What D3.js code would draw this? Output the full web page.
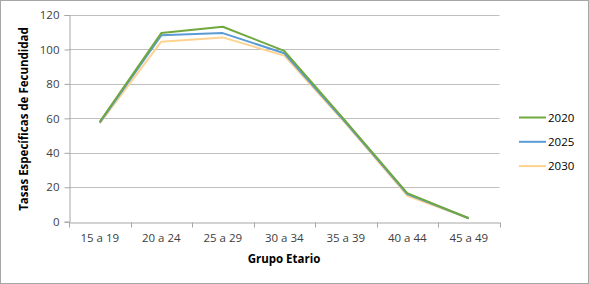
<!DOCTYPE html>
<html>
<head>
<meta charset="UTF-8">
<title>Tasas Especificas de Fecundidad</title>
<script src="https://d3js.org/d3.v7.min.js"></script>
<style>
  body { margin: 0; background: #fff; }
  svg text { font-family: "Open Sans", sans-serif; fill: #404040; }
</style>
</head>
<body>
<script>
// age groups and projected rates per year
var grupos = ["15 a 19", "20 a 24", "25 a 29", "30 a 34", "35 a 39", "40 a 44", "45 a 49"];
var anios = ["2020", "2025", "2030"];
var tasas2020 = [58.0, 109.5, 113.2, 99.2, 58.2, 16.6, 2.0];
var tasas2025 = [57.5, 108.2, 109.5, 97.8, 57.6, 16.0, 2.0];
var tasas2030 = [57.0, 104.5, 107.0, 96.4, 57.0, 15.1, 1.9];
var yTicks = [0, 20, 40, 60, 80, 100, 120];
var colores = ["#70A83F", "#5B9BD5", "#FFD38F"];

var width = 589, height = 284;
var margin = { top: 15, right: 90, bottom: 62, left: 69 };
var plotW = 499.5 - margin.left;
var plotH = height - margin.bottom - margin.top;

var svg = d3.select("body").append("svg")
    .attr("width", width)
    .attr("height", height);

// outer frame
svg.append("rect")
    .attr("x", 0.5).attr("y", 0.5)
    .attr("width", width - 1).attr("height", height - 1)
    .attr("fill", "#fff")
    .attr("stroke", "#A6A6A6");

var g = svg.append("g")
    .attr("transform", "translate(" + margin.left + "," + margin.top + ")");

var x = d3.scaleBand().domain(grupos).range([0, plotW]);
var y = d3.scaleLinear().domain([0, 120]).range([206.7, 0]);

// gridlines
g.append("g")
    .selectAll("line")
    .data(yTicks.slice(1))
    .join("line")
    .attr("x1", 0).attr("x2", plotW)
    .attr("y1", function (d) { return Math.round(y(d)) + 0.5; })
    .attr("y2", function (d) { return Math.round(y(d)) + 0.5; })
    .attr("stroke", "#BFBFBF")
    .attr("stroke-width", 1);

// y axis
var yAxis = g.append("g")
    .attr("transform", "translate(0.5,0)")
    .call(d3.axisLeft(y).tickValues(yTicks).tickSize(5).tickPadding(5));
yAxis.selectAll("path, line").attr("stroke", "#A6A6A6");
yAxis.selectAll("text").style("font-size", "11.5px").attr("fill", "#404040");

// x axis with ticks at band edges
var xAxis = g.append("g")
    .attr("transform", "translate(0," + (Math.round(y(0)) + 0.5) + ")")
    .call(d3.axisBottom(x).tickSize(0).tickPadding(11));
xAxis.select(".domain").attr("stroke", "#A6A6A6");
xAxis.selectAll("text").style("font-size", "11.5px").attr("fill", "#404040");
xAxis.selectAll(".edge")
    .data(grupos.concat(["end"]))
    .join("line")
    .attr("class", "edge")
    .attr("x1", function (d, i) { return Math.round(i * x.step()) + 0.5; })
    .attr("x2", function (d, i) { return Math.round(i * x.step()) + 0.5; })
    .attr("y1", 0).attr("y2", 5)
    .attr("stroke", "#A6A6A6");

// series lines
var series = [tasas2020, tasas2025, tasas2030];
var line = d3.line()
    .x(function (d, i) { return x(grupos[i]) + x.bandwidth() / 2; })
    .y(function (d) { return y(d); });

// draw 2030 first so 2020 is on top
for (var s = series.length - 1; s >= 0; s--) {
    g.append("path")
        .attr("d", line(series[s]))
        .attr("fill", "none")
        .attr("stroke", colores[s])
        .attr("stroke-width", 2)
        .attr("stroke-linejoin", "round");
}

// axis titles
svg.append("text")
    .attr("x", 284).attr("y", 263)
    .attr("text-anchor", "middle")
    .style("font-size", "11.5px").style("font-weight", "bold")
    .attr("fill", "#000")
    .style("fill", "#000")
    .text("Grupo Etario");

svg.append("text")
    .attr("transform", "translate(28,119) rotate(-90)")
    .attr("text-anchor", "middle")
    .style("font-size", "11.5px").style("font-weight", "bold")
    .style("fill", "#000")
    .text("Tasas Específicas de Fecundidad");

// legend
var legend = svg.append("g")
    .selectAll("g")
    .data(anios)
    .join("g")
    .attr("transform", function (d, i) { return "translate(519," + (117.5 + i * 24.3) + ")"; });
legend.append("line")
    .attr("x1", 0).attr("x2", 27)
    .attr("stroke", function (d, i) { return colores[i]; })
    .attr("stroke-width", 2);
legend.append("text")
    .attr("x", 29).attr("dy", "0.35em")
    .style("font-size", "11.5px")
    .style("fill", "#000")
    .text(function (d) { return d; });
</script>
</body>
</html>
